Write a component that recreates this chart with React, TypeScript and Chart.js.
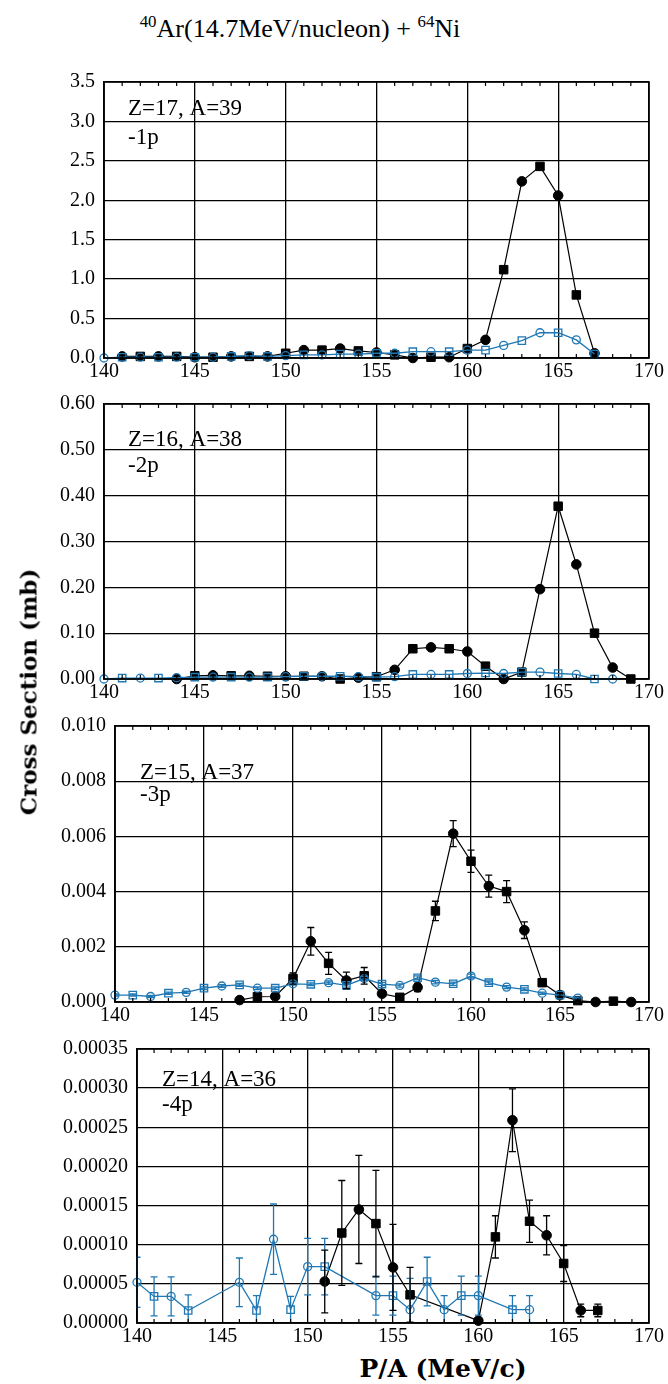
import React, { useEffect, useRef } from 'react';
import { Chart, registerables } from 'chart.js';

Chart.register(...registerables);

const BLUE = '#1f78b4';
const TICK_FONT = '"Liberation Serif", serif';
const LABEL_FONT = '"Liberation Serif", serif';

// ---------- shared x axis ----------
const xTicks = [140, 145, 150, 155, 160, 165, 170];

// ---------- Panel 1 : Z=17, A=39 (-1p) ----------
const p1BlackX = [141, 142, 143, 144, 145, 146, 147, 148, 149, 150, 151, 152, 153, 154, 155, 156, 157, 158, 159, 160, 161, 162, 163, 164, 165, 166, 167];
const p1BlackY = [0.02, 0.02, 0.02, 0.02, 0.01, 0.01, 0.02, 0.02, 0.02, 0.06, 0.10, 0.10, 0.12, 0.09, 0.07, 0.04, 0.0, 0.01, 0.01, 0.12, 0.23, 1.12, 2.24, 2.43, 2.06, 0.80, 0.06];
const p1BlueX = [140, 141, 142, 143, 144, 145, 146, 147, 148, 149, 150, 151, 152, 153, 154, 155, 156, 157, 158, 159, 160, 161, 162, 163, 164, 165, 166, 167];
const p1BlueY = [0.0, 0.01, 0.01, 0.01, 0.01, 0.01, 0.01, 0.02, 0.03, 0.02, 0.03, 0.04, 0.04, 0.05, 0.05, 0.06, 0.06, 0.08, 0.08, 0.08, 0.10, 0.10, 0.16, 0.22, 0.32, 0.32, 0.23, 0.05];
const p1YTicks = [0, 0.5, 1.0, 1.5, 2.0, 2.5, 3.0, 3.5];

// ---------- Panel 2 : Z=16, A=38 (-2p) ----------
const p2BlackX = [144, 145, 146, 147, 148, 149, 150, 151, 152, 153, 154, 155, 156, 157, 158, 159, 160, 161, 162, 163, 164, 165, 166, 167, 168, 169];
const p2BlackY = [0.0, 0.007, 0.008, 0.007, 0.007, 0.006, 0.006, 0.006, 0.006, 0.0, 0.003, 0.005, 0.02, 0.066, 0.069, 0.066, 0.06, 0.028, 0.0, 0.015, 0.196, 0.377, 0.25, 0.10, 0.025, 0.0];
const p2BlueX = [140, 141, 142, 143, 144, 145, 146, 147, 148, 149, 150, 151, 152, 153, 154, 155, 156, 157, 158, 159, 160, 161, 162, 163, 164, 165, 166, 167, 168];
const p2BlueY = [0.0, 0.002, 0.002, 0.002, 0.003, 0.004, 0.004, 0.004, 0.004, 0.004, 0.005, 0.006, 0.006, 0.006, 0.005, 0.004, 0.005, 0.01, 0.01, 0.01, 0.012, 0.013, 0.012, 0.015, 0.015, 0.012, 0.01, 0.0, 0.0];
const p2YTicks = [0, 0.1, 0.2, 0.3, 0.4, 0.5, 0.6];

// ---------- Panel 3 : Z=15, A=37 (-3p) ----------
const p3BlackX = [147, 148, 149, 150, 151, 152, 153, 154, 155, 156, 157, 158, 159, 160, 161, 162, 163, 164, 165, 166, 167, 168, 169];
const p3BlackY = [0.00007, 0.00019, 0.0002, 0.00085, 0.0022, 0.0014, 0.00078, 0.00095, 0.0003, 0.00017, 0.00053, 0.0033, 0.0061, 0.0051, 0.0042, 0.004, 0.0026, 0.0007, 0.00025, 0.00005, 0.0, 0.00003, 0.0];
const p3BlackErr = [0.00005, 0.00006, 0.00007, 0.0002, 0.0005, 0.0004, 0.0003, 0.0003, 0.0001, 0.0001, 0.00015, 0.00035, 0.00047, 0.0004, 0.0004, 0.0004, 0.0003, 0.0001, 0.00005, 0.00003, 0, 0, 0];
const p3BlueX = [140, 141, 142, 143, 144, 145, 146, 147, 148, 149, 150, 151, 152, 153, 154, 155, 156, 157, 158, 159, 160, 161, 162, 163, 164, 165, 166];
const p3BlueY = [0.00025, 0.00025, 0.0002, 0.00032, 0.00035, 0.0005, 0.00058, 0.00062, 0.0005, 0.0005, 0.00066, 0.00064, 0.0007, 0.0006, 0.00085, 0.00065, 0.0006, 0.00088, 0.00072, 0.00066, 0.00094, 0.0007, 0.00054, 0.00046, 0.00032, 0.00025, 0.00014];
const p3BlueErr = [0.00004, 0.00004, 0.00004, 0.00004, 0.00004, 0.00005, 0.00005, 0.00005, 0.00005, 0.00005, 0.00005, 0.00005, 0.00006, 0.00006, 0.00008, 0.00006, 0.00006, 0.00007, 0.00006, 0.00006, 0.00007, 0.00006, 0.00005, 0.00005, 0.00004, 0.00004, 0.00004];
const p3YTicks = [0, 0.002, 0.004, 0.006, 0.008, 0.01];

// ---------- Panel 4 : Z=14, A=36 (-4p) ----------
const p4BlackX = [151, 152, 153, 154, 155, 156, 160, 161, 162, 163, 164, 165, 166, 167];
const p4BlackY = [0.000053, 0.000115, 0.000145, 0.000127, 0.000071, 0.000036, 0.000003, 0.00011, 0.000259, 0.00013, 0.000112, 0.000076, 0.000016, 0.000016];
const p4BlackErr = [0.00004, 0.000067, 0.000069, 0.000068, 0.000055, 0.000035, 0, 0.000027, 0.00004, 0.000027, 0.000025, 0.000023, 0.000008, 0.000008];
const p4BlueX = [140, 141, 142, 143, 146, 147, 148, 149, 150, 151, 154, 155, 156, 157, 158, 159, 160, 162, 163];
const p4BlueY = [0.000052, 0.000034, 0.000034, 0.000016, 0.000052, 0.000016, 0.000107, 0.000017, 0.000072, 0.000072, 0.000035, 0.000035, 0.000017, 0.000053, 0.000017, 0.000035, 0.000035, 0.000017, 0.000017];
const p4BlueErr = [0.000032, 0.000025, 0.000025, 0.00002, 0.000031, 0.000019, 0.000045, 0.000017, 0.000036, 0.000036, 0.000025, 0.000025, 0.00004, 0.000031, 0.000018, 0.000025, 0.000025, 0.000018, 0.000018];
const p4YTicks = [0, 0.00005, 0.0001, 0.00015, 0.0002, 0.00025, 0.0003, 0.00035];

const panelLabels = ['Z=17, A=39', 'Z=16, A=38', 'Z=15, A=37', 'Z=14, A=36'];
const panelSubLabels = ['-1p', '-2p', '-3p', '-4p'];

type Series = { x: number[]; y: number[]; err?: number[] };
type Panel = {
  black: Series;
  blue: Series;
  yTicks: number[];
  dec: number;
  top: number;
  bottom: number;
  left: number;
  lx: number;
  ly1: number;
  ly2: number;
  label: string;
  sub: string;
};

const PANELS: Panel[] = [
  { black: { x: p1BlackX, y: p1BlackY }, blue: { x: p1BlueX, y: p1BlueY }, yTicks: p1YTicks, dec: 1, top: 75, bottom: 358, left: 104, lx: 24, ly1: 27, ly2: 56, label: panelLabels[0], sub: panelSubLabels[0] },
  { black: { x: p2BlackX, y: p2BlackY }, blue: { x: p2BlueX, y: p2BlueY }, yTicks: p2YTicks, dec: 2, top: 397, bottom: 679, left: 104, lx: 24, ly1: 36, ly2: 62, label: panelLabels[1], sub: panelSubLabels[1] },
  { black: { x: p3BlackX, y: p3BlackY, err: p3BlackErr }, blue: { x: p3BlueX, y: p3BlueY, err: p3BlueErr }, yTicks: p3YTicks, dec: 3, top: 719, bottom: 1002, left: 115, lx: 25, ly1: 47, ly2: 69, label: panelLabels[2], sub: panelSubLabels[2] },
  { black: { x: p4BlackX, y: p4BlackY, err: p4BlackErr }, blue: { x: p4BlueX, y: p4BlueY, err: p4BlueErr }, yTicks: p4YTicks, dec: 5, top: 1042, bottom: 1323, left: 137, lx: 25, ly1: 31, ly2: 56, label: panelLabels[3], sub: panelSubLabels[3] },
];

const PAD_TOP = 14;
const X_AXIS_H = 26;
const RIGHT = 649;
const W = 668;

const toPoints = (s: Series) => s.x.map((x, i) => ({ x, y: s.y[i] }));

const panelPlugin = {
  id: 'panelDecor',
  afterDatasetsDraw(chart: any) {
    const { ctx, chartArea } = chart;
    const xs = chart.scales.x;
    const ys = chart.scales.y;
    ctx.save();
    ctx.beginPath();
    ctx.rect(chartArea.left - 1, chartArea.top, chartArea.right - chartArea.left + 2, chartArea.bottom - chartArea.top);
    ctx.clip();
    chart.data.datasets.forEach((ds: any) => {
      if (!ds.errors) return;
      ctx.strokeStyle = ds.borderColor;
      ctx.lineWidth = 1.3;
      ds.data.forEach((p: any, i: number) => {
        const e = ds.errors[i];
        if (!e) return;
        const px = xs.getPixelForValue(p.x);
        const y1 = ys.getPixelForValue(p.y + e);
        const y2 = ys.getPixelForValue(Math.max(p.y - e, ys.min));
        ctx.beginPath();
        ctx.moveTo(px, y1);
        ctx.lineTo(px, y2);
        ctx.moveTo(px - 3.5, y1);
        ctx.lineTo(px + 3.5, y1);
        if (p.y - e > ys.min) {
          ctx.moveTo(px - 3.5, y2);
          ctx.lineTo(px + 3.5, y2);
        }
        ctx.stroke();
      });
    });
    ctx.restore();
  },
  afterDraw(chart: any, _args: any, opts: any) {
    const { ctx, chartArea } = chart;
    const xs = chart.scales.x;
    ctx.save();
    ctx.strokeStyle = '#000';
    ctx.lineWidth = 1.6;
    ctx.strokeRect(chartArea.left, chartArea.top, chartArea.right - chartArea.left, chartArea.bottom - chartArea.top);
    ctx.lineWidth = 1.2;
    for (let v = xs.min + 1; v < xs.max; v++) {
      if (v % 5 === 0) continue;
      const px = xs.getPixelForValue(v);
      ctx.beginPath();
      ctx.moveTo(px, chartArea.top);
      ctx.lineTo(px, chartArea.top + 4);
      ctx.moveTo(px, chartArea.bottom);
      ctx.lineTo(px, chartArea.bottom - 4);
      ctx.stroke();
    }
    ctx.fillStyle = '#000';
    ctx.font = `23px ${LABEL_FONT}`;
    ctx.textBaseline = 'middle';
    ctx.textAlign = 'left';
    ctx.fillText(opts.label, chartArea.left + opts.lx, chartArea.top + opts.ly1);
    ctx.fillText(opts.sub, chartArea.left + opts.lx, chartArea.top + opts.ly2);
    ctx.restore();
  },
};

const styleFor = (c: any) => (c.dataIndex % 2 === 0 ? 'circle' : 'rect');

function PanelChart({ p }: { p: Panel }) {
  const ref = useRef<HTMLCanvasElement | null>(null);
  const height = p.bottom - p.top + PAD_TOP + X_AXIS_H;
  useEffect(() => {
    if (!ref.current) return;
    const chart = new Chart(ref.current, {
      type: 'scatter',
      data: {
        datasets: [
          {
            data: toPoints(p.blue),
            errors: p.blue.err,
            showLine: true,
            borderColor: BLUE,
            borderWidth: 1.3,
            backgroundColor: 'rgba(255,255,255,0)',
            pointBorderColor: BLUE,
            pointBackgroundColor: 'rgba(255,255,255,0)',
            pointBorderWidth: 1.3,
            pointRadius: (c: any) => (c.dataIndex % 2 === 0 ? 4 : 5.2),
            pointStyle: styleFor,
            clip: false,
          } as any,
          {
            data: toPoints(p.black),
            errors: p.black.err,
            showLine: true,
            borderColor: '#000',
            borderWidth: 1.2,
            backgroundColor: '#000',
            pointBorderColor: '#000',
            pointBackgroundColor: '#000',
            pointBorderWidth: 1,
            pointRadius: (c: any) => (c.dataIndex % 2 === 0 ? 4.8 : 6),
            pointStyle: styleFor,
            clip: false,
          } as any,
        ],
      },
      options: {
        responsive: false,
        animation: false,
        layout: { padding: { top: PAD_TOP, right: W - RIGHT, left: 0, bottom: 0 } },
        plugins: {
          legend: { display: false },
          tooltip: { enabled: false },
          panelDecor: { label: p.label, sub: p.sub, lx: p.lx, ly1: p.ly1, ly2: p.ly2 },
        } as any,
        scales: {
          x: {
            type: 'linear',
            min: xTicks[0],
            max: xTicks[xTicks.length - 1],
            afterBuildTicks: (s: any) => {
              s.ticks = xTicks.map((v) => ({ value: v }));
            },
            afterFit: (s: any) => {
              s.height = X_AXIS_H;
            },
            ticks: {
              color: '#000',
              font: { family: TICK_FONT, size: 20 },
              padding: 2,
              maxRotation: 0,
              callback: (v: any) => String(v),
            },
            grid: { color: '#000', lineWidth: 1.3, drawTicks: false },
            border: { color: '#000', width: 1.6 },
          },
          y: {
            type: 'linear',
            min: p.yTicks[0],
            max: p.yTicks[p.yTicks.length - 1],
            afterBuildTicks: (s: any) => {
              s.ticks = p.yTicks.map((v) => ({ value: v }));
            },
            afterFit: (s: any) => {
              s.width = p.left;
            },
            ticks: {
              color: '#000',
              font: { family: TICK_FONT, size: 20 },
              padding: 9,
              callback: (v: any) => Number(v).toFixed(p.dec),
            },
            grid: { color: '#000', lineWidth: 1.3, drawTicks: false },
            border: { color: '#000', width: 1.6 },
          },
        },
      } as any,
      plugins: [panelPlugin as any],
    });
    return () => chart.destroy();
  }, [p]);
  return (
    <canvas
      ref={ref}
      width={W}
      height={height}
      style={{ position: 'absolute', left: 0, top: p.top - PAD_TOP, width: W, height }}
    />
  );
}

export default function App() {
  return (
    <div style={{ position: 'absolute', left: 0, top: 0, width: W, height: 1384, background: '#fff' }}>
      <div
        style={{
          position: 'absolute',
          left: 300,
          top: 12,
          transform: 'translateX(-50%)',
          whiteSpace: 'nowrap',
          font: `26px ${LABEL_FONT}`,
          color: '#000',
        }}
      >
        <sup style={{ fontSize: '0.65em' }}>40</sup>Ar(14.7MeV/nucleon) + <sup style={{ fontSize: '0.65em' }}>64</sup>Ni
      </div>
      {PANELS.map((p, i) => (
        <PanelChart key={i} p={p} />
      ))}
      <div
        style={{
          position: 'absolute',
          left: 28,
          top: 692,
          transform: 'translate(-50%, -50%) rotate(-90deg)',
          whiteSpace: 'nowrap',
          font: 'bold 23px "DejaVu Serif", serif',
          color: '#000',
        }}
      >
        Cross Section (mb)
      </div>
      <div
        style={{
          position: 'absolute',
          left: 443,
          top: 1368,
          transform: 'translate(-50%, -50%)',
          whiteSpace: 'nowrap',
          font: 'bold 25px "DejaVu Serif", serif',
          color: '#000',
        }}
      >
        P/A (MeV/c)
      </div>
    </div>
  );
}
